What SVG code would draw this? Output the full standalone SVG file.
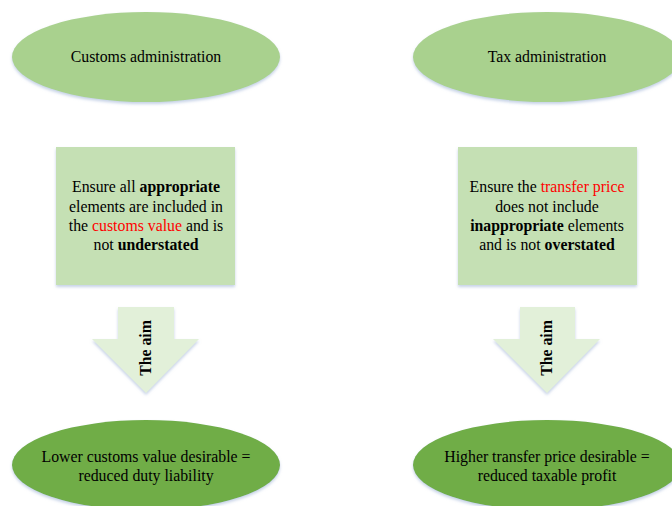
<svg xmlns="http://www.w3.org/2000/svg" width="672" height="506" viewBox="0 0 672 506">
<defs>
<filter id="sh" x="-10%" y="-10%" width="120%" height="125%">
<feDropShadow dx="0" dy="2" stdDeviation="1.5" flood-color="#9fb3d6" flood-opacity="0.6"/>
</filter>
</defs>
<style>
text{font-family:"Liberation Serif","Times New Roman",serif;font-size:15.8px;fill:#000;text-anchor:middle}
.top{fill:#A9D18E}
.box{fill:#C5E0B4}
.arr{fill:#E2F0D9}
.bot{fill:#70AD47}
.b{font-weight:bold}
.r{fill:#FF0000}
</style>
<rect width="672" height="506" fill="#fff"/>
<g id="customs-admin">
<ellipse class="top" cx="146" cy="57" rx="134" ry="45" filter="url(#sh)"/>
<text x="146" y="62">Customs administration</text>
</g>
<g id="tax-admin">
<ellipse class="top" cx="547" cy="57" rx="134" ry="45" filter="url(#sh)"/>
<text x="547" y="62">Tax administration</text>
</g>
<g id="customs-box">
<rect class="box" x="56" y="147" width="179" height="138" filter="url(#sh)"/>
<text x="146" y="192">Ensure all <tspan class="b">appropriate</tspan></text>
<text x="146" y="212">elements are included in</text>
<text x="146" y="231">the <tspan class="r">customs value</tspan> and is</text>
<text x="146" y="250">not <tspan class="b">understated</tspan></text>
</g>
<g id="tax-box">
<rect class="box" x="458" y="147" width="179" height="138" filter="url(#sh)"/>
<text x="547" y="192">Ensure the <tspan class="r">transfer price</tspan></text>
<text x="547" y="212">does not include</text>
<text x="547" y="231"><tspan class="b">inappropriate</tspan> elements</text>
<text x="547" y="250">and is not <tspan class="b">overstated</tspan></text>
</g>
<g id="connectors">
<g id="arrow-left">
<polygon class="arr" points="118,307 174,307 174,339 199,339 146,393 92,339 118,339" filter="url(#sh)"/>
<text class="b" transform="translate(151,348) rotate(-90)">The aim</text>
</g>
<g id="arrow-right">
<polygon class="arr" points="520,307 575,307 575,339 600,339 547,393 493,339 520,339" filter="url(#sh)"/>
<text class="b" transform="translate(552,348) rotate(-90)">The aim</text>
</g>
</g>
<g id="customs-aim">
<ellipse class="bot" cx="146" cy="465" rx="134" ry="45" filter="url(#sh)"/>
<text x="146" y="462">Lower customs value desirable =</text>
<text x="146" y="481">reduced duty liability</text>
</g>
<g id="tax-aim">
<ellipse class="bot" cx="547" cy="465" rx="134" ry="45" filter="url(#sh)"/>
<text x="547" y="462">Higher transfer price desirable =</text>
<text x="547" y="481">reduced taxable profit</text>
</g>
</svg>
